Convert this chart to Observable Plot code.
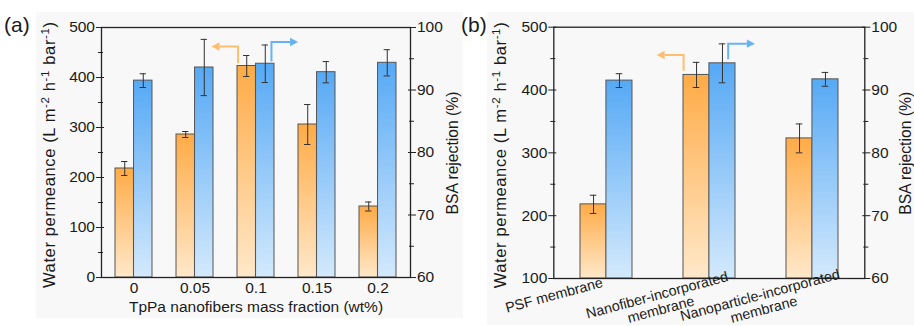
<!DOCTYPE html>
<html><head><meta charset="utf-8">
<script src="https://cdn.jsdelivr.net/npm/d3@7"></script>
<script src="https://cdn.jsdelivr.net/npm/@observablehq/plot@0.6"></script>
<style>
html,body{margin:0;padding:0;background:#fff;}
#wrap{position:relative;width:914px;height:326px;overflow:hidden;font-family:"Liberation Sans",Arial,sans-serif;}
.bg{position:absolute;background:#f8f8f8;}
.panel{position:absolute;top:0;}
</style></head>
<body>
<div id="wrap">
<div class="bg" style="left:36px;top:12px;width:427px;height:306px"></div>
<div class="bg" style="left:487px;top:12px;width:427px;height:313px"></div>
<svg width="0" height="0" style="position:absolute"><defs>
<linearGradient id="gO" x1="0" y1="0" x2="0" y2="1"><stop offset="0" stop-color="#FFAB46"/><stop offset="1" stop-color="#FFE8CA"/></linearGradient>
<linearGradient id="gB" x1="0" y1="0" x2="0" y2="1"><stop offset="0" stop-color="#56A9F5"/><stop offset="1" stop-color="#D3E9FC"/></linearGradient>
</defs></svg>
</div>
<script>
// ---------- data ----------
const catsA = ["0", "0.05", "0.1", "0.15", "0.2"];
const permA = [218, 286, 423, 306, 142];
const permErrA = [14, 6, 21, 40, 9];
const rejA = [91.5, 93.6, 94.2, 92.85, 94.35];
const rejErrA = [1.1, 4.5, 3.0, 1.7, 2.1];

const catsB = ["PSF membrane", "Nanofiber-incorporated\nmembrane", "Nanoparticle-incorporated\nmembrane"];
const permB = [218, 424, 323];
const permErrB = [14.5, 20, 23];
const rejB = [91.5, 94.25, 91.7];
const rejErrB = [1.1, 3.1, 1.1];

const leftTicksA = [0, 100, 200, 300, 400, 500];
const leftMinorA = [50, 150, 250, 350, 450];
const leftTicksB = [100, 200, 300, 400, 500];
const leftMinorB = [150, 250, 350, 450];
const rightTicks = [60, 70, 80, 90, 100];
const rightMinor = [65, 75, 85, 95];

const xTitleA = "TpPa nanofibers mass fraction (wt%)";
const yTitleLeft = [["Water permeance (L m", false], ["-2", true], [" h", false], ["-1", true], [" bar", false], ["-1", true], [")", false]];
const yTitleRight = "BSA rejection (%)";

// ---------- drawing ----------
const FONT = '"Liberation Sans", Arial, sans-serif';
const wrap = document.getElementById("wrap");

function drawPanel(cfg) {
  const {cats, perm, permErr, rej, rejErr, leftDomain, leftTicks, leftMinor, width, height, margin, padInner, left, xAxis, rotLabels, arrows, tag, leftTitleX, rightTitleX} = cfg;
  const [y0, y1] = leftDomain;
  const toL = v => y0 + (v - 60) / 40 * (y1 - y0);
  const fromL = v => 60 + (v - y0) / (y1 - y0) * 40;
  const rows = cats.map((c, i) => ({
    cat: c, base: y0,
    p: perm[i], pLo: perm[i] - permErr[i], pHi: perm[i] + permErr[i],
    r: toL(rej[i]), rLo: toL(rej[i] - rejErr[i]), rHi: toL(rej[i] + rejErr[i])
  }));
  const plotW = width - margin.left - margin.right;
  const bw = plotW / cats.length * (1 - padInner);
  const q = bw / 4, cap = 3.2;
  const ink = "#333";
  const marks = [
    Plot.barY(rows, {x: "cat", y1: "base", y2: "p", insetRight: bw / 2, fill: "url(#gO)", stroke: "#555", strokeWidth: 1}),
    Plot.barY(rows, {x: "cat", y1: "base", y2: "r", insetLeft: bw / 2, fill: "url(#gB)", stroke: "#555", strokeWidth: 1}),
    Plot.ruleX(rows, {x: "cat", y1: "pLo", y2: "pHi", dx: -q, stroke: ink, strokeWidth: 1}),
    Plot.tickY(rows, {x: "cat", y: "pLo", insetLeft: q - cap, insetRight: 3 * q - cap, stroke: ink}),
    Plot.tickY(rows, {x: "cat", y: "pHi", insetLeft: q - cap, insetRight: 3 * q - cap, stroke: ink}),
    Plot.ruleX(rows, {x: "cat", y1: "rLo", y2: "rHi", dx: q, stroke: ink, strokeWidth: 1}),
    Plot.tickY(rows, {x: "cat", y: "rLo", insetLeft: 3 * q - cap, insetRight: q - cap, stroke: ink}),
    Plot.tickY(rows, {x: "cat", y: "rHi", insetLeft: 3 * q - cap, insetRight: q - cap, stroke: ink}),
    Plot.frame({stroke: "#222", strokeWidth: 1.3}),
    // left axis
    Plot.axisY({ticks: leftTicks, tickSize: 8, dx: 3, tickFormat: () => "", label: null, stroke: "#222"}),
    Plot.axisY({ticks: leftMinor, tickSize: 5, dx: 2, tickFormat: () => "", label: null, stroke: "#222"}),
    Plot.axisY({ticks: leftTicks, tickSize: 0, tickPadding: 6.5, label: null, fontSize: 15.5, fill: "#1a1a1a"}),
    // right axis
    Plot.axisY({anchor: "right", ticks: rightTicks.map(toL), tickSize: 8, dx: -3, tickFormat: () => "", label: null, stroke: "#222"}),
    Plot.axisY({anchor: "right", ticks: rightMinor.map(toL), tickSize: 5, dx: -2, tickFormat: () => "", label: null, stroke: "#222"}),
    Plot.axisY({anchor: "right", ticks: rightTicks.map(toL), tickSize: 0, tickPadding: 6.5, tickFormat: v => String(Math.round(fromL(v))), label: null, fontSize: 15.5, fill: "#1a1a1a"})
  ];
  if (xAxis) {
    marks.push(Plot.axisX({tickSize: 0, tickPadding: 4, label: null, fontSize: 15.5, fill: "#1a1a1a"}));
    marks.push(Plot.text([xAxis], {frameAnchor: "bottom", lineAnchor: "middle", dy: 30, text: d => d, fontSize: 15.5, fill: "#1a1a1a"}));
  }
  if (rotLabels) {
    marks.push(Plot.text(cats, {x: d => d, text: d => d, frameAnchor: "bottom", rotate: -15, textAnchor: "middle", lineAnchor: "top", dx: -54, dy: 11, fontSize: 14.3, lineHeight: 1.04, fill: "#1a1a1a"}));
  }
  const svg = Plot.plot({
    width, height,
    marginLeft: margin.left, marginRight: margin.right, marginTop: margin.top, marginBottom: margin.bottom,
    style: {background: "transparent", fontFamily: FONT, fontSize: "15.5px", color: "#1a1a1a", overflow: "visible"},
    x: {type: "band", domain: cats, paddingInner: padInner, paddingOuter: padInner / 2, axis: null},
    y: {domain: leftDomain, axis: null},
    marks
  });
  svg.classList.add("panel");
  svg.style.left = left + "px";
  const sel = d3.select(svg);
  const xs = svg.scale("x"), ys = svg.scale("y");
  const yc = (margin.top + (height - margin.bottom)) / 2 + 3;

  // left title with superscripts
  const lt = sel.append("text")
    .attr("transform", `translate(${leftTitleX},${yc}) rotate(-90)`)
    .attr("text-anchor", "middle").attr("font-size", 16.5).attr("fill", "#1a1a1a")
    .attr("font-family", FONT).attr("textLength", 266).attr("lengthAdjust", "spacing");
  yTitleLeft.forEach(([s, sup]) => {
    const t = lt.append("tspan").text(s);
    if (sup) t.attr("baseline-shift", "super").attr("font-size", 11.5);
  });
  // right title
  sel.append("text")
    .attr("transform", `translate(${rightTitleX},${yc - 2}) rotate(-90)`)
    .attr("text-anchor", "middle").attr("font-size", 15.7).attr("fill", "#1a1a1a")
    .attr("font-family", FONT).text(yTitleRight);
  // panel tag
  sel.append("text").attr("x", tag.x).attr("y", tag.y).attr("font-size", 21)
    .attr("text-anchor", "start")
    .attr("fill", "#1a1a1a").attr("font-family", FONT).text(tag.text);

  // arrows (positions via the plot's own scales)
  arrows.forEach(a => {
    const cx = xs.apply(a.cat) + xs.bandwidth / 2 + a.off * bw;
    const ya = ys.apply(a.from), yb = ys.apply(a.to);
    const tipX = cx + a.dir * a.len;
    const headL = 8, headH = 4.2;
    sel.append("path")
      .attr("d", `M${cx},${ya}V${yb}H${tipX - a.dir * headL}`)
      .attr("fill", "none").attr("stroke", a.color).attr("stroke-width", 2);
    sel.append("path")
      .attr("d", `M${tipX},${yb}L${tipX - a.dir * headL},${yb - headH}L${tipX - a.dir * headL},${yb + headH}Z`)
      .attr("fill", a.color);
  });
  wrap.appendChild(svg);
}

drawPanel({
  cats: catsA, perm: permA, permErr: permErrA, rej: rejA, rejErr: rejErrA,
  leftDomain: [0, 500], leftTicks: leftTicksA, leftMinor: leftMinorA,
  width: 470, height: 326, margin: {left: 101, right: 60, top: 27, bottom: 49},
  padInner: 0.4, left: 0, xAxis: xTitleA, rotLabels: false,
  leftTitleX: 55, rightTitleX: 458,
  tag: {x: 4, y: 32, text: "(a)"},
  arrows: [
    {cat: "0.1", off: -0.47, from: 428, to: 461, dir: -1, len: 26.6, color: "#FFBD70"},
    {cat: "0.1", off: 0.43, from: 431, to: 470, dir: 1, len: 26.6, color: "#66B2F6"}
  ]
});
drawPanel({
  cats: catsB, perm: permB, permErr: permErrB, rej: rejB, rejErr: rejErrB,
  leftDomain: [100, 500], leftTicks: leftTicksB, leftMinor: leftMinorB,
  width: 459, height: 326, margin: {left: 98.3, right: 49.7, top: 26.7, bottom: 48},
  padInner: 0.5, left: 455, xAxis: null, rotLabels: true,
  leftTitleX: 51, rightTitleX: 455.5,
  tag: {x: 6, y: 32, text: "(b)"},
  arrows: [
    {cat: catsB[1], off: -0.49, from: 430, to: 455, dir: -1, len: 27, color: "#FFBD70"},
    {cat: catsB[1], off: 0.37, from: 448, to: 473, dir: 1, len: 26.7, color: "#66B2F6"}
  ]
});
</script>
</body></html>
